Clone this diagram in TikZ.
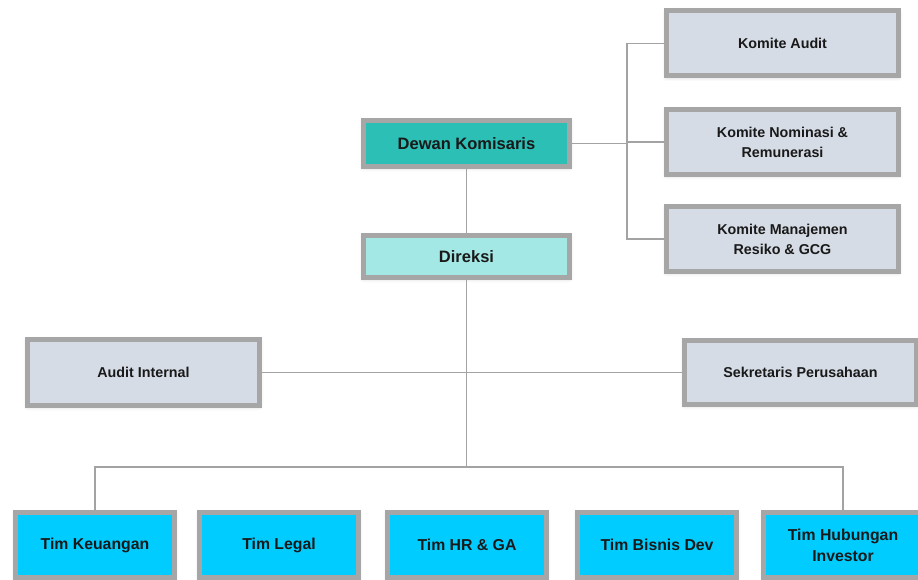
\documentclass[tikz,border=0pt]{standalone}
\usepackage{fontspec}
\setmainfont{Liberation Sans}
\usetikzlibrary{shadows.blur}
\definecolor{edgegray}{HTML}{A6A6A6}
\definecolor{linkgray}{HTML}{A3A3A3}
\definecolor{boardteal}{HTML}{2BBFB6}
\definecolor{dirlight}{HTML}{A3E8E5}
\definecolor{unitgray}{HTML}{D6DCE5}
\definecolor{teamcyan}{HTML}{00CCFF}
\tikzset{
  orgbox/.style={draw=edgegray, line width=5pt, align=center, inner sep=0pt,
    font=\bfseries, text=black!90,
    blur shadow={shadow xshift=0pt, shadow yshift=-1pt, shadow blur radius=4pt, shadow opacity=25}},
  topbox/.style={orgbox, minimum width=206pt, minimum height=46pt, font=\fontsize{16.5}{19}\bfseries},
  unitbox/.style={orgbox, fill=unitgray, minimum width=232pt, minimum height=65pt, font=\fontsize{14.3}{20}\bfseries},
  teambox/.style={orgbox, fill=teamcyan, minimum width=159pt, minimum height=65pt, font=\fontsize{15.8}{21}\bfseries},
  link/.style={draw=linkgray, line width=1.3pt}
}
\begin{document}
\begin{tikzpicture}[x=1pt,y=-1pt]
  \useasboundingbox (0,0) rectangle (918,580);
  \clip (0,0) rectangle (918,580);

  % connectors first, boxes on top
  \coordinate (brk) at (627,0);
  \coordinate (hub) at (0,467);

  % board and directors
  \node[topbox, fill=boardteal] (dk) at (466.5,143.5) {Dewan Komisaris};
  \node[topbox, fill=dirlight, minimum height=42pt] (dir) at (466.5,256.5) {Direksi};

  % board committees
  \node[unitbox] (ka) at (782.5,43.5) {Komite Audit};
  \node[unitbox] (kn) at (782.5,142) {Komite Nominasi \&\\Remunerasi};
  \node[unitbox] (km) at (782.5,239) {Komite Manajemen\\Resiko \& GCG};

  % staff units
  \node[unitbox, minimum height=66pt] (ai) at (143.5,372.5) {Audit Internal};
  \node[unitbox, minimum height=64pt] (sp) at (800.5,372.5) {Sekretaris Perusahaan};

  % teams
  \node[teambox] (tk) at (95,545) {Tim Keuangan};
  \node[teambox] (tl) at (279,545) {Tim Legal};
  \node[teambox] (th) at (467,545) {Tim HR \& GA};
  \node[teambox] (tb) at (657,545) {Tim Bisnis Dev};
  \node[teambox] (thi) at (843,545) {Tim Hubungan\\Investor};

  \begin{scope}[on background layer/.style={}]
    \draw[link] (dk.east) -- (dk.east -| brk);
    \draw[link] (ka.west) -| (brk |- km.west) -- (km.west);
    \draw[link] (kn.west) -- (kn.west -| brk);
    \draw[link] (dk.south) -- (dir.north);
    \draw[link] (ai.east) -- (sp.west);
    \draw[link] (dir.south) -- (dir.south |- hub);
    \draw[link] (tk.north) |- (dir.south |- hub) -| (thi.north);
  \end{scope}
\end{tikzpicture}
\end{document}
